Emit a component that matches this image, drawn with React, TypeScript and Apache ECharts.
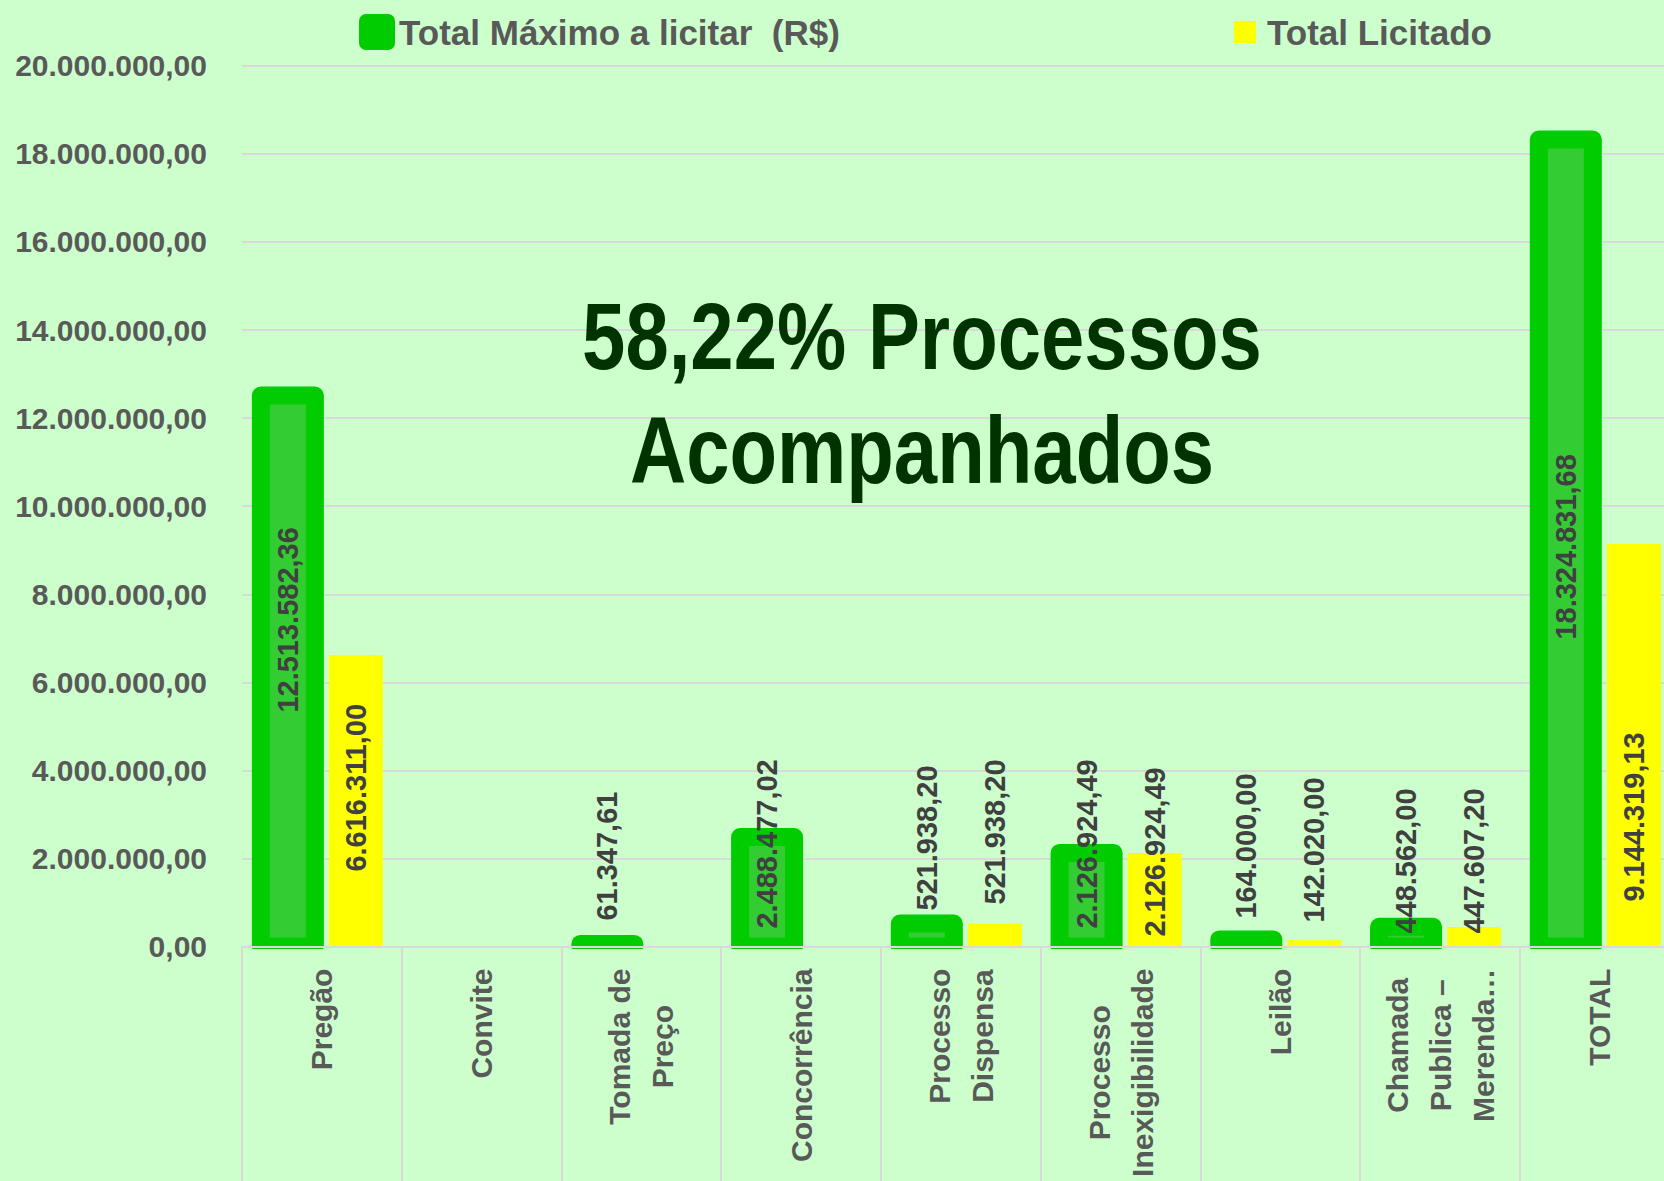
import React, { useEffect, useRef } from 'react';
import * as echarts from 'echarts';

// ---------- data ----------
const categories = [
  'Pregão',
  'Convite',
  'Tomada de\nPreço',
  'Concorrência',
  'Processo\nDispensa',
  'Processo\nInexigibilidade',
  'Leilão',
  'Chamada\nPublica –\nMerenda…',
  'TOTAL',
];
const totalMaximo = [12513582.36, null, 61347.61, 2488477.02, 521938.2, 2126924.49, 164000.0, 448562.0, 18324831.68];
const totalLicitado = [6616311.0, null, null, null, 521938.2, 2126924.49, 142020.0, 447607.2, 9144319.13];
const seriesNames = ['Total Máximo a licitar  (R$)', 'Total Licitado'];
const yMin = 0;
const yMax = 20000000;
const yInterval = 2000000;
const headline = '58,22% Processos\nAcompanhados';

// ---------- styling ----------
const W = 1664;
const H = 1181;
const BG = '#ccffcc';
const FONT = "'Liberation Sans', Arial, sans-serif";
const GRID_LEFT = 242;
const GRID_TOP = 65.8;
const GRID_W = 1437.7;
const GRID_H = 880.8;
const GRID_BOTTOM = GRID_TOP + GRID_H;
const BAR_W = 54;
const BAR_GAP = 0.26;
const PAIR_OFFSET = (BAR_W * (1 + BAR_GAP)) / 2; // distance of each bar centre from category centre
const GREEN_BORDER = 18;
// label start distance above the base of each bar (px)
const maxLabelLift = [234, 0, 26, 18, 36, 18, 28, 13, 307];
const licLabelLift = [75, 0, 0, 0, 42, 10, 24, 13, 45];

function fmtBR(v: number): string {
  const fixed = Math.abs(v).toFixed(2);
  const [int, dec] = fixed.split('.');
  const withDots = int.replace(/\B(?=(\d{3})+(?!\d))/g, '.');
  return (v < 0 ? '-' : '') + withDots + ',' + dec;
}

const dataLabel = {
  show: true,
  position: 'insideBottom',
  rotate: 90,
  align: 'left',
  verticalAlign: 'middle',
  fontFamily: FONT,
  fontWeight: 'bold',
  fontSize: 29,
  color: '#404040',
  formatter: (p: any) => fmtBR(p.value),
};

export default function App() {
  const ref = useRef<HTMLDivElement>(null);
  useEffect(() => {
    if (!ref.current) return;
    const chart = echarts.init(ref.current, null, { renderer: 'svg' });
    const legendText = {
      fontFamily: FONT,
      fontSize: 35,
      fontWeight: 'bold',
      color: '#595959',
      lineHeight: 42,
      padding: [0, 0, 0, 6],
    };
    const greenIcon = {
      borderWidth: 14,
      borderColor: '#00cc00',
      color: '#00cc00',
      borderJoin: 'round',
    };
    const option: any = {
      animation: false,
      backgroundColor: BG,
      grid: {
        left: GRID_LEFT,
        top: GRID_TOP,
        width: GRID_W,
        height: GRID_H,
        containLabel: false,
        outerBoundsMode: 'none',
      },
      legend: [
        {
          left: 354,
          top: 6,
          icon: 'rect',
          itemWidth: 22,
          itemHeight: 22,
          selectedMode: false,
          itemStyle: greenIcon,
          data: [{ name: seriesNames[0], itemStyle: greenIcon }],
          textStyle: legendText,
        },
        {
          left: 1229,
          top: 6,
          icon: 'rect',
          itemWidth: 22,
          itemHeight: 22,
          selectedMode: false,
          data: [seriesNames[1]],
          textStyle: legendText,
        },
      ],
      xAxis: {
        type: 'category',
        data: categories,
        z: 5,
        axisLine: { show: true, lineStyle: { color: '#d9d9d9', width: 2 } },
        axisTick: { show: true, length: 240, interval: 0, lineStyle: { color: '#d9d9d9', width: 2 } },
        axisLabel: {
          interval: 0,
          rotate: 90,
          margin: 22,
          formatter: (v: string) => v.split('\n').map((s) => `{c|${s}}`).join('\n'),
          rich: {
            c: {
              align: 'center',
              fontFamily: FONT,
              fontSize: 30,
              fontWeight: 'bold',
              color: '#595959',
              lineHeight: 43,
            },
          },
        },
      },
      yAxis: {
        type: 'value',
        min: yMin,
        max: yMax,
        interval: yInterval,
        axisLine: { show: false },
        axisTick: { show: false },
        splitLine: { lineStyle: { color: '#d9d9d9', width: 2 } },
        axisLabel: {
          formatter: (v: number) => fmtBR(v),
          margin: 35,
          fontFamily: FONT,
          fontSize: 30,
          fontWeight: 'bold',
          color: '#595959',
        },
      },
      series: [
        {
          // visible green bars, border centred on the bar edge
          name: 'maxShape',
          type: 'custom',
          silent: true,
          data: totalMaximo.map((v, i) => [i, v == null ? '-' : v]),
          encode: { x: 0, y: 1 },
          renderItem: (params: any, api: any) => {
            const v = api.value(1);
            if (v == null || isNaN(v)) return null;
            const idx = api.value(0);
            const top = api.coord([idx, v]);
            const base = api.coord([idx, 0]);
            const cx = top[0] - PAIR_OFFSET;
            return {
              type: 'rect',
              shape: { x: cx - BAR_W / 2, y: top[1], width: BAR_W, height: base[1] - top[1] },
              style: {
                fill: '#33cc33',
                stroke: '#00cc00',
                lineWidth: GREEN_BORDER,
                lineJoin: 'round',
              },
            };
          },
        },
        {
          name: seriesNames[0],
          type: 'bar',
          barWidth: BAR_W,
          barGap: BAR_GAP * 100 + '%',
          itemStyle: { color: 'rgba(0,0,0,0)' },
          label: dataLabel,
          data: totalMaximo.map((v, i) => (v == null ? null : { value: v, label: { distance: maxLabelLift[i] } })),
        },
        {
          name: seriesNames[1],
          type: 'bar',
          barWidth: BAR_W,
          barGap: BAR_GAP * 100 + '%',
          itemStyle: { color: '#ffff00' },
          label: dataLabel,
          data: totalLicitado.map((v, i) => (v == null ? null : { value: v, label: { distance: licLabelLift[i] } })),
        },
      ],
      graphic: [
        {
          type: 'rect',
          z: 3,
          silent: true,
          shape: { x: GRID_LEFT + 1, y: GRID_BOTTOM + 2.5, width: W, height: 12 },
          style: { fill: BG },
        },
        {
          type: 'text',
          z: 10,
          x: 922,
          y: 393,
          scaleX: 0.82,
          silent: true,
          style: {
            text: headline,
            fontFamily: FONT,
            fontSize: 95,
            fontWeight: 'bold',
            fill: '#003300',
            align: 'center',
            verticalAlign: 'middle',
            lineHeight: 114,
          },
        },
      ],
    };
    chart.setOption(option);
    return () => chart.dispose();
  }, []);
  return (
    <div
      ref={ref}
      style={{ position: 'fixed', left: 0, top: 0, width: W, height: H, background: BG }}
    />
  );
}
